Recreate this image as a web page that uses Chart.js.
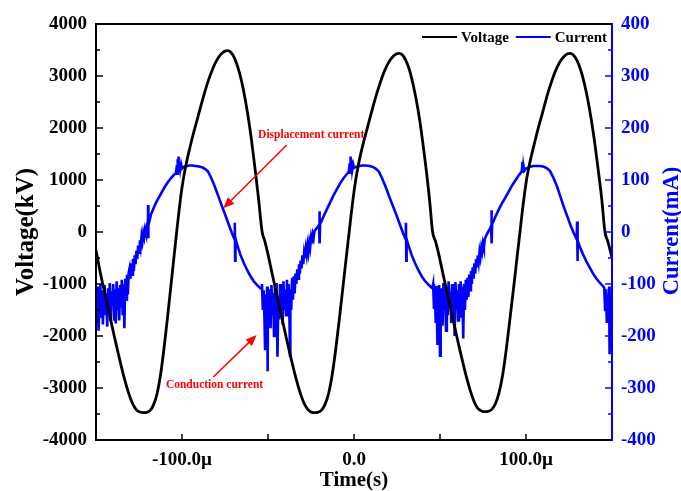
<!DOCTYPE html>
<html><head><meta charset="utf-8">
<script src="https://cdn.jsdelivr.net/npm/chart.js@4/dist/chart.umd.min.js"></script>
<style>html,body{margin:0;padding:0;background:#fff;}#wrap{width:681px;height:491px;}</style>
</head><body><div id="wrap"><canvas id="c" width="681" height="491"></canvas></div>
<script>
// ---- data (time in µs, voltage in kV, current in mA) ----
const voltageSeries = [
[-150,-350],[-147.4,-800],[-145.4,-1100],[-143.4,-1400],[-141.4,-1700],[-139.4,-2000],[-137.4,-2290],[-135.4,-2570],[-133.4,-2830],[-131.4,-3060],[-129.4,-3250],[-127.4,-3380],[-125.4,-3450],[-122.5,-3474],
[-120.5,-3468],[-118.5,-3430],[-116.5,-3320],[-114.5,-3110],[-112.5,-2750],[-110.5,-2250],[-108.5,-1670],[-106.5,-1050],[-104.5,-430],[-103.1,0],[-102,330],[-101,610],[-100.2,810],[-99,1060],[-97.5,1320],[-96,1540],[-94.4,1760],[-92.5,2000],[-90.5,2245],[-88.5,2490],[-86.6,2710],[-84.5,2930],[-82,3150],[-79.5,3320],[-77,3430],[-75,3478],[-73.5,3487],
[-71.5,3451],[-69.5,3345],[-67.5,3167],[-65.5,2918],[-63.5,2597],[-61.5,2207],[-59.5,1744],[-57.5,1210],[-55.5,640],[-53.4,0],
[-51.9,-170],[-50,-430],[-47.6,-800],[-45.6,-1100],[-43.6,-1400],[-41.6,-1700],[-39.6,-2000],[-37.6,-2290],[-35.6,-2570],[-33.6,-2830],[-31.6,-3060],[-29.6,-3250],[-27.6,-3380],[-25.6,-3450],[-23.5,-3474],
[-21.2,-3468],[-19,-3430],[-16.9,-3320],[-14.8,-3110],[-12.7,-2750],[-10.6,-2250],[-8.5,-1670],[-6.4,-1050],[-4.3,-430],[-2.8,0],
[-1.7,325],[-0.7,600],[0.1,800],[1.2,1045],[2.6,1300],[4,1517],[5.6,1734],[7.5,1970],[9.4,2211],[11.4,2453],[13.3,2670],[15.4,2886],[17.8,3103],[20.3,3270],[22.8,3379],[24.8,3426],[26.3,3436],
[28.3,3399],[30.2,3295],[32.2,3120],[34.1,2874],[36.1,2558],[38.1,2174],[40,1718],[42,1192],[43.9,630],[45.7,0],
[47.3,-170],[49.3,-430],[51.7,-800],[53.7,-1100],[55.7,-1400],[57.7,-1700],[59.7,-2000],[61.7,-2290],[63.7,-2570],[65.7,-2830],[67.7,-3060],[69.7,-3250],[71.7,-3380],[73.7,-3435],[75.8,-3455],
[77.9,-3449],[80.1,-3411],[82.2,-3302],[84.3,-3093],[86.5,-2735],[88.6,-2238],[90.7,-1661],[92.9,-1044],[95,-428],[96.5,0],
[97.6,325],[98.6,600],[99.4,800],[100.5,1045],[102,1300],[103.5,1517],[105.1,1734],[106.9,1970],[108.9,2211],[110.9,2453],[112.7,2670],[114.8,2886],[117.2,3103],[119.7,3270],[122.2,3379],[124.1,3426],[125.6,3436],
[127.65,3399],[129.7,3295],[131.75,3120],[133.8,2874],[135.85,2558],[137.9,2174],[139.95,1718],[142,1192],[144.05,630],[145.9,0],[147.5,-170],[149.5,-430],[150,-500]
];
const currentSeries = [
[-150,-120],[-149.5,-175],[-149,-105],[-148.5,-190],[-148,-130],[-147.5,-100],[-147,-165],[-146.5,-112],[-146,-178],[-145.5,-125],[-145,-102],[-144.5,-160],[-144,-118],[-143.5,-182],[-143,-108],[-142.5,-150],[-142,-98],[-141.5,-172],[-141,-115],[-140.5,-140],[-140,-100],[-139.5,-168],[-139,-110],[-138.5,-176],[-138,-95],[-137.5,-150],[-137,-108],[-136.5,-170],[-136,-102],[-135.5,-145],[-135,-92],[-134.5,-160],[-134,-100],[-133.5,-185],[-133,-90],[-132.5,-130],[-132,-82],[-131.5,-120],[-131,-78],
[-130.5,-70],[-130,-90],[-129.5,-60],[-129,-82],[-128.5,-52],[-128,-75],[-127.5,-45],[-127,-62],[-126.5,-36],[-126,-52],[-125.5,-26],[-125,-40],[-124.5,-16],[-124,-28],[-123.5,-8],[-123,-18],[-122.5,-2],[-122,-10],[-121.5,5],[-121,-2],[-120.5,10],[-120,6],[-119.8,18],[-119.7,52],[-119.6,-12],[-119.5,24],[-119,20],[-118,34],[-117,42],[-116,50],[-115,57],[-114,63],[-113,69],[-112,75],[-111,81],[-110,87],[-109,92],[-108,97],[-107,101],[-106,105],[-105,109],[-104,112],[-103.5,114],[-103,128],[-102.8,112],[-102.5,140],[-102.2,118],[-102,145],[-101.7,117],[-101.4,132],[-101,120],[-100.5,130],[-100,122],[-99,125],[-98,126],[-96,128],[-94,128],[-92,127],[-90,126],[-88,124],[-86.5,121],[-85,117],[-83,104],[-81,88],[-79,70],[-77,52],[-75,34],[-73,16],[-71,-2],[-69.5,-14],[-69.3,18],[-69.1,-55],[-68.9,-12],[-68,-24],[-66,-44],[-64,-60],[-62,-74],[-60,-86],[-58,-96],[-56,-103],[-54.5,-108],
[-54,-108],[-53.5,-100],[-53,-150],[-52.5,-112],[-52,-175],[-51.7,-225],[-51.5,-120],[-51,-160],[-50.5,-105],[-50.2,-268],[-50,-130],[-49.5,-170],[-49,-110],[-48.5,-185],[-48,-102],[-47.5,-160],[-47,-118],[-46.5,-200],[-46,-105],[-45.5,-150],[-45,-98],[-44.5,-240],[-44,-125],[-43.5,-168],[-43,-100],[-42.5,-145],[-42,-108],[-41.5,-178],[-41,-95],[-40.5,-150],[-40,-110],[-39.5,-160],[-39,-92],[-38.5,-140],[-38,-100],[-37.5,-170],[-37.2,-238],[-37,-110],[-36.5,-150],[-36,-88],[-35.5,-130],[-35,-85],[-34.5,-118],[-34,-80],[-33.5,-100],[-33,-72],[-32.5,-90],[-32,-62],[-31.5,-80],[-31,-55],[-30.5,-70],[-30,-45],[-29.5,-62],[-29,-40],[-28.5,-50],
[-28,-32],[-27.5,-44],[-27,-26],[-26.5,-38],[-26,-20],[-25.5,-30],[-25,-12],[-24.5,-22],[-24,-5],[-23.5,-12],[-23,2],[-22,6],[-21,10],[-20.3,14],[-20.1,40],[-19.9,-22],[-19.7,16],[-19,20],[-18,28],[-16,42],[-14,56],[-12,70],[-10,82],[-8,94],[-6,104],[-4,112],[-3,116],[-2.5,132],[-2.3,114],[-2,145],[-1.7,118],[-1.3,138],[-1,120],[-0.5,130],[0,123],[1,125],[3,127],[5,128],[7,128],[9,127],[11,125],[13,121],[14.5,116],[16.5,102],[18.5,86],[20.5,68],[22.5,51],[24.5,34],[26.5,16],[28.5,-2],[30,-14],[30.2,18],[30.4,-55],[30.6,-14],[31.5,-24],[33.5,-44],[35.5,-60],[37.5,-74],[39.5,-86],[41.5,-95],[43.5,-102],[45.5,-108],
[46,-100],[46.5,-148],[47,-110],[47.5,-175],[48,-104],[48.5,-215],[48.8,-120],[49,-160],[49.5,-102],[50,-238],[50.3,-125],[50.5,-170],[51,-108],[51.5,-180],[52,-98],[52.5,-150],[53,-112],[53.5,-190],[54,-105],[54.5,-160],[55,-95],[55.5,-145],[56,-115],[56.5,-175],[57,-100],[57.5,-155],[58,-108],[58.5,-200],[59,-96],[59.5,-150],[60,-112],[60.5,-170],[61,-100],[61.5,-140],[62,-95],[62.5,-165],[63,-105],[63.5,-205],[64,-100],[64.5,-150],[65,-92],[65.5,-130],[66,-88],[66.5,-125],[67,-82],[67.5,-112],[68,-75],[68.5,-100],[69,-68],[69.5,-90],[70,-60],[70.5,-80],[71,-52],[71.5,-68],[72,-45],[72.5,-58],[73,-38],[73.5,-48],[74,-30],[74.5,-38],[75,-22],[75.5,-30],[76,-14],[77,-6],[78,0],[79,6],[79.7,12],[79.9,42],[80.1,-22],[80.3,16],[81,20],[82,28],[84,42],[86,55],[88,66],[90,78],[92,90],[94,100],[96,110],[97.5,116],[98,135],[98.2,114],[98.5,128],[99,118],[100,122],[102,125],[104,127],[106,127],[108,127],[110,126],[112,123],[114,117],[116,104],[118,88],[120,68],[122,48],[124,30],[126,12],[128,-4],[129.5,-14],[129.7,20],[129.9,-56],[130.1,-16],[131,-26],[133,-42],[135,-56],[137,-68],[139,-80],[141,-90],[143,-98],[145,-105],[145.5,-108],[146,-150],[146.5,-110],[147,-175],[147.5,-120],[148,-165],[148.3,-105],[148.6,-235],[148.9,-130],[149.2,-190],[149.5,-112],[150,-160]
];
const timeTickValues = [-100, 0, 100];
const timeTickLabels = ['-100.0\u00b5', '0.0', '100.0\u00b5'];
const seriesNames = ['Voltage', 'Current'];
const annotationNotes = [
  {text: 'Displacement current', at: [-24.9, 1865], tail: [-39.1, 1673], head: [-76, 456]},
  {text: 'Conduction current', at: [-81.1, -2942], tail: [-81.8, -2788], head: [-56.6, -1981]}
];

const SERIF = '"Liberation Serif","Times New Roman",serif';
const BLUE = '#0000ff';

const framePlugin = {
  id: 'frame',
  afterDraw(chart) {
    const {ctx, chartArea: a, scales} = chart;
    ctx.save();
    ctx.lineCap = 'butt';
    const tick = (x1, y1, x2, y2) => { ctx.beginPath(); ctx.moveTo(x1, y1); ctx.lineTo(x2, y2); ctx.stroke(); };
    ctx.lineWidth = 1.5;
    ctx.strokeStyle = '#000';
    const ys = scales.y;
    ys.ticks.forEach((t, i) => {
      const p = ys.getPixelForValue(t.value);
      tick(a.left, p, a.left + 7, p);
      if (i < ys.ticks.length - 1) {
        const m = ys.getPixelForValue((t.value + ys.ticks[i + 1].value) / 2);
        tick(a.left, m, a.left + 4, m);
      }
    });
    const xs = scales.x;
    xs.ticks.forEach(t => {
      const p = xs.getPixelForValue(t.value);
      tick(p, a.bottom, p, a.bottom - 6);
    });
    ctx.strokeStyle = BLUE;
    const y1 = scales.y1;
    y1.ticks.forEach((t, i) => {
      const p = y1.getPixelForValue(t.value);
      tick(a.right, p, a.right - 7, p);
      if (i < y1.ticks.length - 1) {
        const m = y1.getPixelForValue((t.value + y1.ticks[i + 1].value) / 2);
        tick(a.right, m, a.right - 4, m);
      }
    });
    ctx.lineWidth = 2;
    ctx.strokeStyle = '#000';
    ctx.beginPath();
    ctx.moveTo(a.right, a.top); ctx.lineTo(a.left, a.top); ctx.lineTo(a.left, a.bottom); ctx.lineTo(a.right, a.bottom);
    ctx.stroke();
    ctx.strokeStyle = BLUE;
    ctx.beginPath(); ctx.moveTo(a.right, a.top - 1); ctx.lineTo(a.right, a.bottom + 1); ctx.stroke();

    // right axis title (reads bottom-to-top)
    ctx.save();
    ctx.translate(672, (a.top + a.bottom) / 2 - 1);
    ctx.rotate(-Math.PI / 2);
    ctx.fillStyle = BLUE;
    ctx.font = 'bold 22.5px ' + SERIF;
    ctx.textAlign = 'center'; ctx.textBaseline = 'middle';
    ctx.fillText('Current(mA)', 0, 0);
    ctx.restore();

    // legend inside plot, top right
    ctx.font = 'bold 15px ' + SERIF;
    ctx.textBaseline = 'middle';
    ctx.textAlign = 'left';
    const ly = a.top + 13;
    const lineLen = 35;
    const ds = chart.data.datasets;
    let total = 0;
    ds.forEach((d, i) => { total += lineLen + 4 + ctx.measureText(d.label).width + (i < ds.length - 1 ? 7 : 0); });
    let lx = a.right - 5 - total;
    ds.forEach((d) => {
      ctx.strokeStyle = d.borderColor; ctx.lineWidth = 2;
      ctx.beginPath(); ctx.moveTo(lx, ly); ctx.lineTo(lx + lineLen, ly); ctx.stroke();
      lx += lineLen + 4;
      ctx.fillStyle = '#000';
      ctx.fillText(d.label, lx, ly + 1);
      lx += ctx.measureText(d.label).width + 7;
    });

    // annotations
    ctx.font = 'bold 11.5px ' + SERIF;
    ctx.textAlign = 'center';
    annotationNotes.forEach(n => {
      const tx = xs.getPixelForValue(n.at[0]), ty = ys.getPixelForValue(n.at[1]);
      ctx.fillStyle = '#ff0000';
      ctx.fillText(n.text, tx, ty);
      const x0 = xs.getPixelForValue(n.tail[0]), y0 = ys.getPixelForValue(n.tail[1]);
      const x1 = xs.getPixelForValue(n.head[0]), y1p = ys.getPixelForValue(n.head[1]);
      const ang = Math.atan2(y1p - y0, x1 - x0);
      const hl = 11, hw = 4.5;
      ctx.strokeStyle = '#ff0000'; ctx.lineWidth = 1.5;
      ctx.beginPath(); ctx.moveTo(x0, y0);
      ctx.lineTo(x1 - Math.cos(ang) * hl * 0.8, y1p - Math.sin(ang) * hl * 0.8); ctx.stroke();
      ctx.beginPath();
      ctx.moveTo(x1, y1p);
      ctx.lineTo(x1 - Math.cos(ang) * hl - Math.sin(ang) * hw, y1p - Math.sin(ang) * hl + Math.cos(ang) * hw);
      ctx.lineTo(x1 - Math.cos(ang) * hl + Math.sin(ang) * hw, y1p - Math.sin(ang) * hl - Math.cos(ang) * hw);
      ctx.closePath(); ctx.fill();
    });
    ctx.restore();
  }
};

new Chart(document.getElementById('c'), {
  type: 'line',
  data: {
    datasets: [
      {label: seriesNames[0], data: voltageSeries.map(([x, y]) => ({x, y})), yAxisID: 'y',
       borderColor: '#000', borderWidth: 2.8, pointRadius: 0, cubicInterpolationMode: 'monotone', fill: false},
      {label: seriesNames[1], data: currentSeries.map(([x, y]) => ({x, y})), yAxisID: 'y1',
       borderColor: BLUE, borderWidth: 2.6, pointRadius: 0, tension: 0, fill: false}
    ]
  },
  options: {
    responsive: false, animation: false, devicePixelRatio: 1,
    layout: {padding: {top: 24, left: 0, right: 0, bottom: 0}},
    plugins: {legend: {display: false}, tooltip: {enabled: false}},
    scales: {
      x: {
        type: 'linear', min: -150, max: 150,
        grid: {display: false, drawTicks: false}, border: {display: false},
        ticks: {stepSize: 50, autoSkip: false, maxRotation: 0, padding: 9, color: '#000',
          font: {family: SERIF, size: 19, weight: 'bold'},
          callback: v => { const i = timeTickValues.indexOf(v); return i >= 0 ? timeTickLabels[i] : ''; }},
        title: {display: true, text: 'Time(s)', color: '#000', padding: {top: -2, bottom: 0},
          font: {family: SERIF, size: 21, weight: 'bold', lineHeight: 1}},
        afterFit(s) { s.height = 51; }
      },
      y: {
        position: 'left', min: -4000, max: 4000,
        grid: {display: false, drawTicks: false}, border: {display: false},
        ticks: {stepSize: 1000, padding: 9, color: '#000',
          font: {family: SERIF, size: 19, weight: 'bold'}, callback: v => String(v)},
        title: {display: true, text: 'Voltage(kV)', color: '#000', padding: {top: 14.5, bottom: 0},
          font: {family: SERIF, size: 25, weight: 'bold', lineHeight: 1}},
        afterFit(s) { s.width = 96; }
      },
      y1: {
        position: 'right', min: -400, max: 400,
        grid: {display: false, drawTicks: false}, border: {display: false},
        ticks: {stepSize: 100, padding: 9, color: BLUE,
          font: {family: SERIF, size: 19, weight: 'bold'}, callback: v => String(v)},
        afterFit(s) { s.width = 69; }
      }
    }
  },
  plugins: [framePlugin]
});
</script>
</body></html>
